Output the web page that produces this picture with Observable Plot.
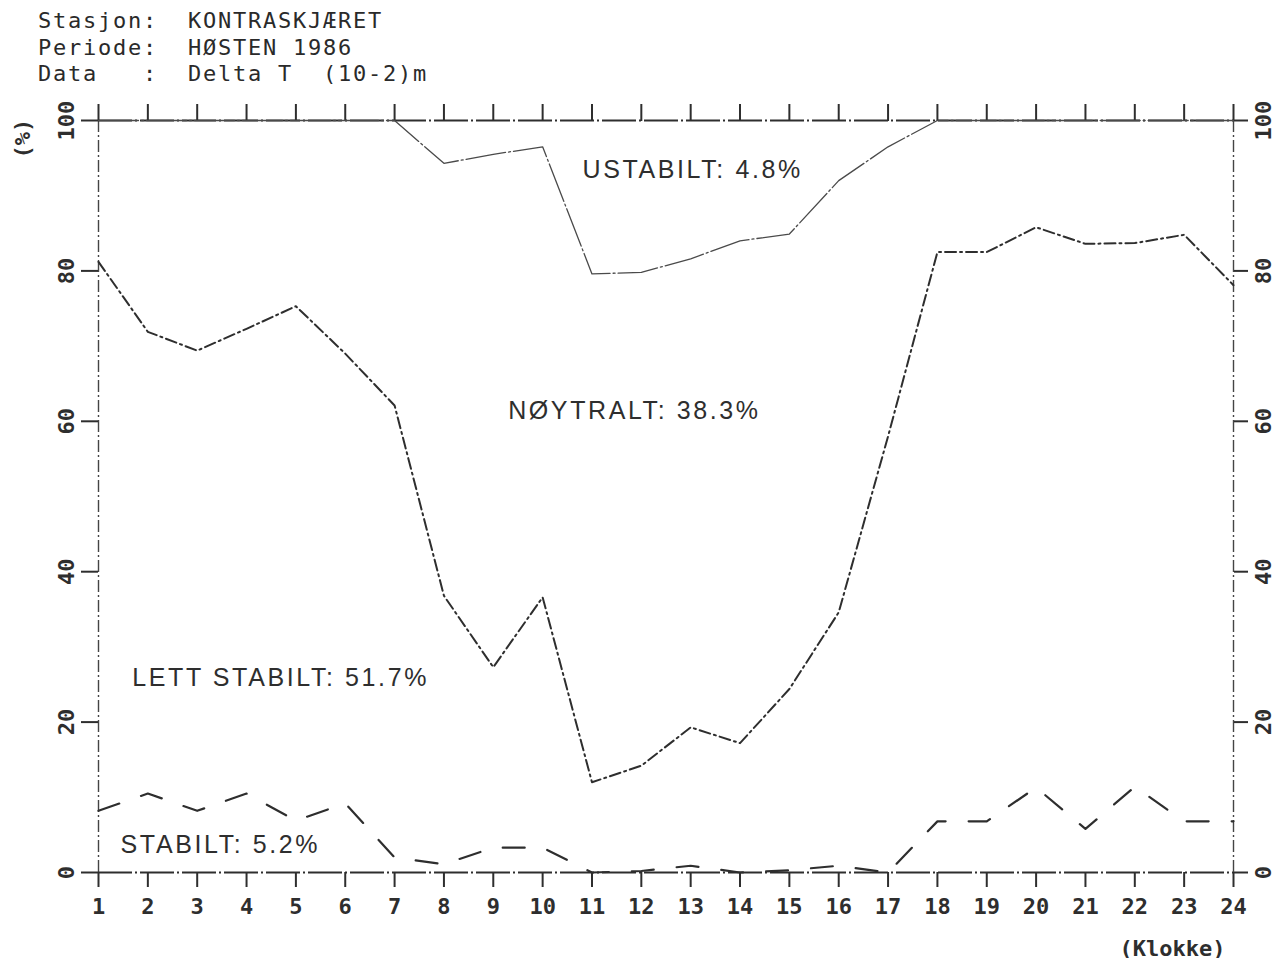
<!DOCTYPE html>
<html><head><meta charset="utf-8">
<script src="https://cdn.jsdelivr.net/npm/d3@7"></script>
<script src="https://cdn.jsdelivr.net/npm/@observablehq/plot@0.6"></script>
<style>
body{margin:0;background:#fff;}
#hdr{height:92px;box-sizing:border-box;padding:8px 0 0 38px;font-family:"DejaVu Sans Mono";font-size:22px;line-height:26.5px;letter-spacing:1.75px;color:#2a2a2a;white-space:pre;}
</style></head><body>
<div id="hdr"><div>Stasjon:  KONTRASKJÆRET</div><div>Periode:  HØSTEN 1986</div><div>Data   :  Delta T  (10-2)m</div></div>
<div id="chart"></div>
<script>
// Hours of day (x categories)
const hours = [1,2,3,4,5,6,7,8,9,10,11,12,13,14,15,16,17,18,19,20,21,22,23,24];
// Upper boundary of NØYTRALT (below USTABILT) — cumulative %
const neutralTop = [100,100,100,100,100,100,100,94.3,95.5,96.5,79.6,79.8,81.6,84.0,84.9,92.0,96.5,100,100,100,100,100,100,100];
// Boundary between LETT STABILT and NØYTRALT — cumulative %
const slightlyStableTop = [81.2,71.9,69.4,72.3,75.3,69.0,62.1,36.8,27.3,36.6,12.0,14.2,19.3,17.2,24.4,34.6,58.0,82.5,82.5,85.8,83.6,83.7,84.8,78.1];
// STABILT — %
const stableTop = [8.2,10.5,8.2,10.5,6.9,9.2,2.0,1.1,3.3,3.3,0,0.2,0.9,0,0.3,0.9,0,6.8,6.8,11.3,5.8,11.4,6.8,6.8];
// Y tick values
const yTicks = [0,20,40,60,80,100];
// Class annotations
const annoText = ["USTABILT: 4.8%","NØYTRALT: 38.3%","LETT STABILT: 51.7%","STABILT: 5.2%"];
const annoX = [13.04, 11.86, 4.69, 3.47];
const annoY = [93.4, 61.4, 25.9, 3.6];

const rows = (vals) => hours.map((h,i)=>({hour:h, v:vals[i]}));
const annos = annoText.map((t,i)=>({t, x:annoX[i], y:annoY[i]}));
const ink = "#2e2e2e";

const plot = Plot.plot({
  width: 1278,
  height: 866,
  marginTop: 28,
  marginBottom: 86,
  marginLeft: 98,
  marginRight: 45,
  style: {fontFamily: "DejaVu Sans Mono", fontSize: "22px", color: ink, background: "white", overflow: "visible"},
  x: {domain: [1,24], label: null},
  y: {domain: [0,100], label: null},
  marks: [
    // frame
    Plot.ruleX([1,24], {stroke: "#444", strokeWidth: 1.4, strokeDasharray: "12,3,2,3"}),
    Plot.ruleY([0,100], {stroke: ink, strokeWidth: 2, strokeDasharray: "34,3,2,3"}),
    // ticks
    Plot.axisX({ticks: hours, anchor: "bottom", tickSize: 15, tickPadding: 11, fontWeight: "bold", fontSize: 22, strokeWidth: 2, label: null}),
    Plot.axisX({ticks: hours, anchor: "top", tickSize: 17, tickFormat: () => "", strokeWidth: 2, label: null}),
    Plot.axisY({ticks: yTicks, anchor: "left", tickSize: 17, tickFormat: () => "", strokeWidth: 2, label: null}),
    Plot.axisY({ticks: yTicks, anchor: "right", tickSize: 14, tickFormat: () => "", strokeWidth: 2, label: null}),
    // rotated y labels
    Plot.text(yTicks, {y: d => d, text: d => String(d), frameAnchor: "left", rotate: -90, dx: -25, textAnchor: "middle", lineAnchor: "bottom", fontWeight: "bold", fontSize: 22}),
    Plot.text(yTicks, {y: d => d, text: d => String(d), frameAnchor: "right", rotate: -90, dx: 22, textAnchor: "middle", lineAnchor: "top", fontWeight: "bold", fontSize: 22}),
    Plot.text(["(%)"], {frameAnchor: "top-left", dx: -76, dy: 18, rotate: -90, textAnchor: "middle", lineAnchor: "middle", fontWeight: "bold", fontSize: 22}),
    Plot.text(["(Klokke)"], {frameAnchor: "bottom-right", dx: -8, dy: 76, textAnchor: "end", lineAnchor: "middle", fontWeight: "bold", fontSize: 22}),
    // data lines
    Plot.line(rows(neutralTop), {x: "hour", y: "v", stroke: "#4a4a4a", strokeWidth: 1.3, strokeDasharray: "40,3,2,3"}),
    Plot.line(rows(slightlyStableTop), {x: "hour", y: "v", stroke: ink, strokeWidth: 2, strokeDasharray: "11,4,2,4"}),
    Plot.line(rows(stableTop), {x: "hour", y: "v", stroke: ink, strokeWidth: 2.2, strokeDasharray: "22,23"}),
    // annotations
    Plot.text(annos, {x: "x", y: "y", text: "t", fontFamily: "Liberation Sans", fontSize: 25, fill: ink, textAnchor: "middle", lineAnchor: "middle"})
  ]
});
d3.select(plot).selectAll("text").each(function() {
  if (annoText.includes(this.textContent)) this.setAttribute("letter-spacing", "2.6px");
});
document.getElementById("chart").appendChild(plot);
</script>
</body></html>
